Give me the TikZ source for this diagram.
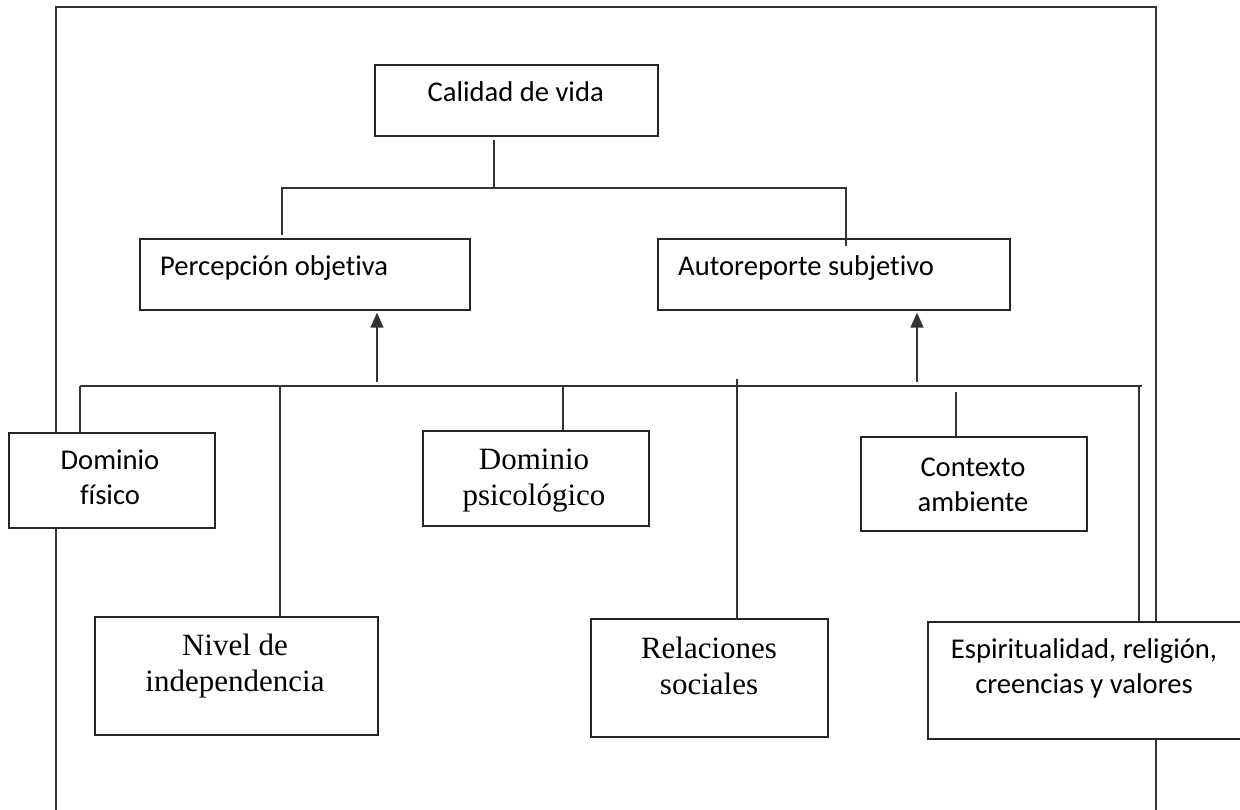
\documentclass[tikz,border=0pt]{standalone}
\usepackage{fontspec}
\setmainfont{Liberation Serif}
\newfontfamily\calib[Ligatures=NoCommon]{Carlito}
\usetikzlibrary{arrows.meta}
\begin{document}
\begin{tikzpicture}[x=1pt,y=-1pt,
  box/.style={draw=black!85, line width=1.3pt, fill=white, inner sep=0pt},
  sanslbl/.style={font=\calib\fontsize{28.6}{35}\selectfont, align=center, inner sep=0pt},
  seriflbl/.style={font=\fontsize{31}{36}\selectfont, align=center, inner sep=0pt},
  link/.style={draw=black!80, line width=1.3pt},
  up/.style={link, -{Triangle[width=13pt,length=15pt]}}
]
\useasboundingbox[fill=white] (0,0) rectangle (1240,810);
% outer frame (open at the bottom)
\coordinate (fbl) at (56,810);
\coordinate (ftl) at (56,7);
\coordinate (ftr) at (1156,7);
\coordinate (fbr) at (1156,810);
\draw[link] (fbl) -- (ftl) -- (ftr) -- (fbr);

% boxes
\node[box, minimum width=283pt, minimum height=71pt] (cal) at (516.5,100.5) {};
\node[box, minimum width=330pt, minimum height=71pt] (per) at (305,274.5) {};
\node[box, minimum width=352pt, minimum height=71pt] (aut) at (834,274.5) {};
\node[box, minimum width=206pt, minimum height=95pt] (fis) at (112,480.5) {};
\node[box, minimum width=226pt, minimum height=95pt] (psi) at (536,478.5) {};
\node[box, minimum width=226pt, minimum height=94pt] (ctx) at (974,484) {};
\node[box, minimum width=283pt, minimum height=118pt] (niv) at (236.5,676) {};
\node[box, minimum width=237pt, minimum height=118pt] (rel) at (709.5,678) {};
\node[box, minimum width=314pt, minimum height=117pt] (esp) at (1085,680.5) {};

% labels
\node[sanslbl] (calT) at (515.7,91.5) {Calidad de vida};
\node[sanslbl, anchor=west] (perT) at (160,268) {Percepción objetiva};
\node[sanslbl, anchor=west] (autT) at (678,268) {Autoreporte subjetivo};
\node[sanslbl] (fisT) at (110,477) {Dominio\\físico};
\node[seriflbl] (psiT) at (534,481) {Dominio\\psicológico};
\node[sanslbl] (ctxT) at (973,485) {Contexto\\ambiente};
\node[seriflbl] (nivT) at (235,666) {Nivel de\\independencia};
\node[seriflbl] (relT) at (709,665.5) {Relaciones\\sociales};
\node[sanslbl] (espT) at (1084,668) {Espiritualidad, religión,\\creencias y valores};

% top connectors
\coordinate (calJ) at (494,188);
\coordinate (perJ) at (282,188);
\coordinate (autJ) at (846,188);
\draw[link] ([yshift=-3pt]cal.south -| calJ) -- (calJ);
\draw[link] ([yshift=3pt]per.north -| perJ) -- (perJ) -- (autJ) -- ([yshift=-8pt]aut.north -| autJ);

% arrows from the bus
\coordinate (busP) at (377,382);
\coordinate (busA) at (917,382);
\draw[up] (busP) -- ([yshift=-2pt]per.south -| busP);
\draw[up] (busA) -- ([yshift=-2pt]aut.south -| busA);

% bus and drops
\coordinate (busL) at (80,386);
\coordinate (busR) at (1142,386);
\coordinate (dNiv) at (280,386);
\coordinate (dPsi) at (563,386);
\coordinate (dRel) at (737,379);
\coordinate (dCtx) at (956,392);
\coordinate (dEsp) at (1139,386);
\draw[link] (busL) -- (busR);
\draw[link] (busL) -- (fis.north -| busL);
\draw[link] (dNiv) -- (niv.north -| dNiv);
\draw[link] (dPsi) -- (psi.north -| dPsi);
\draw[link] (dRel) -- (rel.north -| dRel);
\draw[link] (dCtx) -- (ctx.north -| dCtx);
\draw[link] (dEsp) -- (esp.north -| dEsp);
\end{tikzpicture}
\end{document}
